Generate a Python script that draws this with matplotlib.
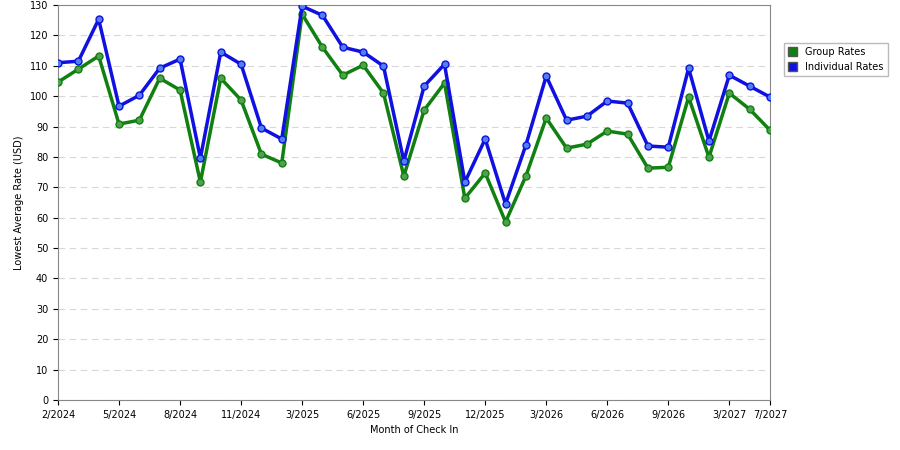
import matplotlib
matplotlib.use("Agg")
import matplotlib.pyplot as plt

tick_labels = ["2/2024","5/2024","8/2024","11/2024","3/2025","6/2025","9/2025",
               "12/2025","3/2026","6/2026","9/2026","3/2027","7/2027"]
tick_idx = [0,3,6,9,12,15,18,21,24,27,30,33,35]
individual = [111,111.5,125.3,96.7,100.3,109.2,112.2,79.6,114.5,110.5,89.5,85.9,
              129.6,126.6,116.1,114.5,109.9,78.6,103.3,110.5,71.7,85.9,64.5,83.9,
              106.6,92.1,93.4,98.4,97.7,83.6,83.2,109.2,85.2,106.9,103.3,99.7]
group = [104.6,108.9,113.2,90.8,92.1,105.9,102,71.7,105.9,98.7,80.9,78,
         127,116.1,106.9,110.2,101,73.7,95.4,104.3,66.4,74.7,58.6,73.7,
         92.8,82.9,84.2,88.5,87.5,76.3,76.6,99.7,79.9,101,95.7,88.8]

fig = plt.figure(figsize=(9,4.5), dpi=100)
ax = fig.add_axes([58/900, 50/450, 712/900, 395/450])
x = list(range(len(group)))
ax.plot(x, group, color="#108010", lw=2.5, marker="o", ms=5, mfc="#50a050", mec="#108010", label="Group Rates", zorder=3)
ax.plot(x, individual, color="#1010e0", lw=2.5, marker="o", ms=5, mfc="#5080f0", mec="#1010e0", label="Individual Rates", zorder=3)
ax.set_xlim(0, 35)
ax.set_ylim(0, 130)
ax.set_yticks(range(0, 131, 10))
ax.set_xticks(tick_idx)
ax.set_xticklabels(tick_labels)
ax.tick_params(labelsize=7)
ax.grid(axis="y", ls=(0,(6,4)), color="#d8d8d8", lw=0.8)
ax.set_axisbelow(True)
ax.set_xlabel("Month of Check In", fontsize=7)
ax.set_ylabel("Lowest Average Rate (USD)", fontsize=7)
for s in ax.spines.values():
    s.set_color("#888888")
fig.legend(handles=[plt.Rectangle((0,0),1,1,fc="#108010",ec="#555"), plt.Rectangle((0,0),1,1,fc="#1010e0",ec="#555")],
           labels=["Group Rates","Individual Rates"], loc="upper left", bbox_to_anchor=(779/900, 1-38/450),
           fontsize=7, frameon=True, fancybox=False, edgecolor="#aaaaaa", handlelength=1, handleheight=1)
fig.savefig("out.png")
